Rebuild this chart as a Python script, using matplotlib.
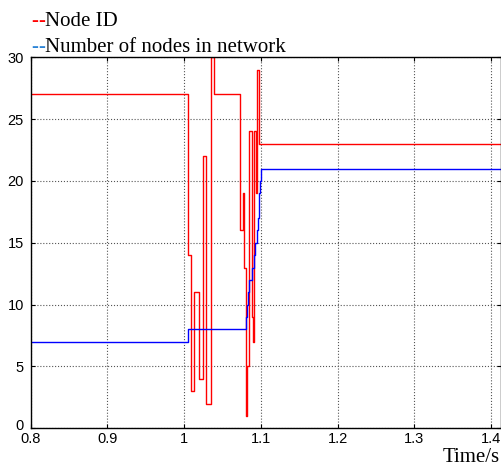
import matplotlib
matplotlib.use('Agg')
import matplotlib.pyplot as plt
import matplotlib.transforms as mtransforms

# Node ID (red) step data: time the value changes, new value
node_t = [0.8, 1.0047, 1.0087, 1.0130, 1.0195, 1.0248, 1.0290, 1.0348, 1.0387,
          1.0729, 1.0764, 1.0775, 1.0807, 1.0820, 1.0850, 1.0878, 1.0902,
          1.0912, 1.0935, 1.0947, 1.0952, 1.0978]
node_id = [27, 14, 3, 11, 4, 22, 2, 30, 27,
           16, 19, 13, 1, 5, 24, 9, 7,
           24, 19, 24, 29, 23]

# Number of nodes in network (blue)
count_t = [0.8, 1.0047, 1.0807, 1.0822, 1.0830, 1.0850, 1.0880, 1.0910, 1.0925,
           1.0945, 1.0960, 1.0975, 1.0990, 1.1000]
count = [7, 8, 9, 10, 11, 12, 13, 14, 15, 16, 17, 19, 20, 21]

t_end = 1.413

xticks = [0.8, 0.9, 1.0, 1.1, 1.2, 1.3, 1.4]
xlabels = ['0.8', '0.9', '1', '1.1', '1.2', '1.3', '1.4']
yticks = [0, 5, 10, 15, 20, 25, 30]

fig = plt.figure(figsize=(5.02, 4.68), dpi=100)
ax = fig.add_axes([0.0612, 0.0848, 0.937, 0.7928])

ax.step(node_t + [t_end], node_id + [node_id[-1]], where='post', color='red', lw=1)
ax.step(count_t + [t_end], count + [count[-1]], where='post', color='blue', lw=1)

ax.set_xlim(0.8, t_end)
ax.set_ylim(0, 30)
ax.set_xticks(xticks)
ax.set_xticklabels(xlabels)
ax.set_yticks(yticks)
ax.tick_params(direction='in', length=3, top=True, right=True, labelsize=10.5)
ax.tick_params(axis='x', pad=3)
ax.tick_params(axis='y', pad=5)
for lab in ax.get_xticklabels() + ax.get_yticklabels():
    lab.set_family('Liberation Sans')
# nudge the y "0" up a little so it does not sit on "0.8"
zero = ax.get_yticklabels()[0]
zero.set_transform(zero.get_transform() + mtransforms.ScaledTranslation(0, 3 / 72, fig.dpi_scale_trans))
ax.grid(True, linestyle=':', color='#555555', linewidth=0.8)
for s in ax.spines.values():
    s.set_linewidth(1)

# legend-like header text above the axes
serif = 'Liberation Serif'
fs = 15
for y, col, txt in [(441.5, 'red', 'Node ID'), (415.5, '#2a83d6', 'Number of nodes in network')]:
    fig.text(31 / 502, y / 468, '-', color=col, family=serif, fontsize=fs, va='baseline')
    fig.text(38 / 502, y / 468, '-', color=col, family=serif, fontsize=fs, va='baseline')
    fig.text(45 / 502, y / 468, txt, color='black', family=serif, fontsize=fs, va='baseline')

fig.text(500 / 502, 6 / 468, 'Time/s', ha='right', va='baseline', family=serif, fontsize=fs)

fig.savefig('out.png', dpi=100)
